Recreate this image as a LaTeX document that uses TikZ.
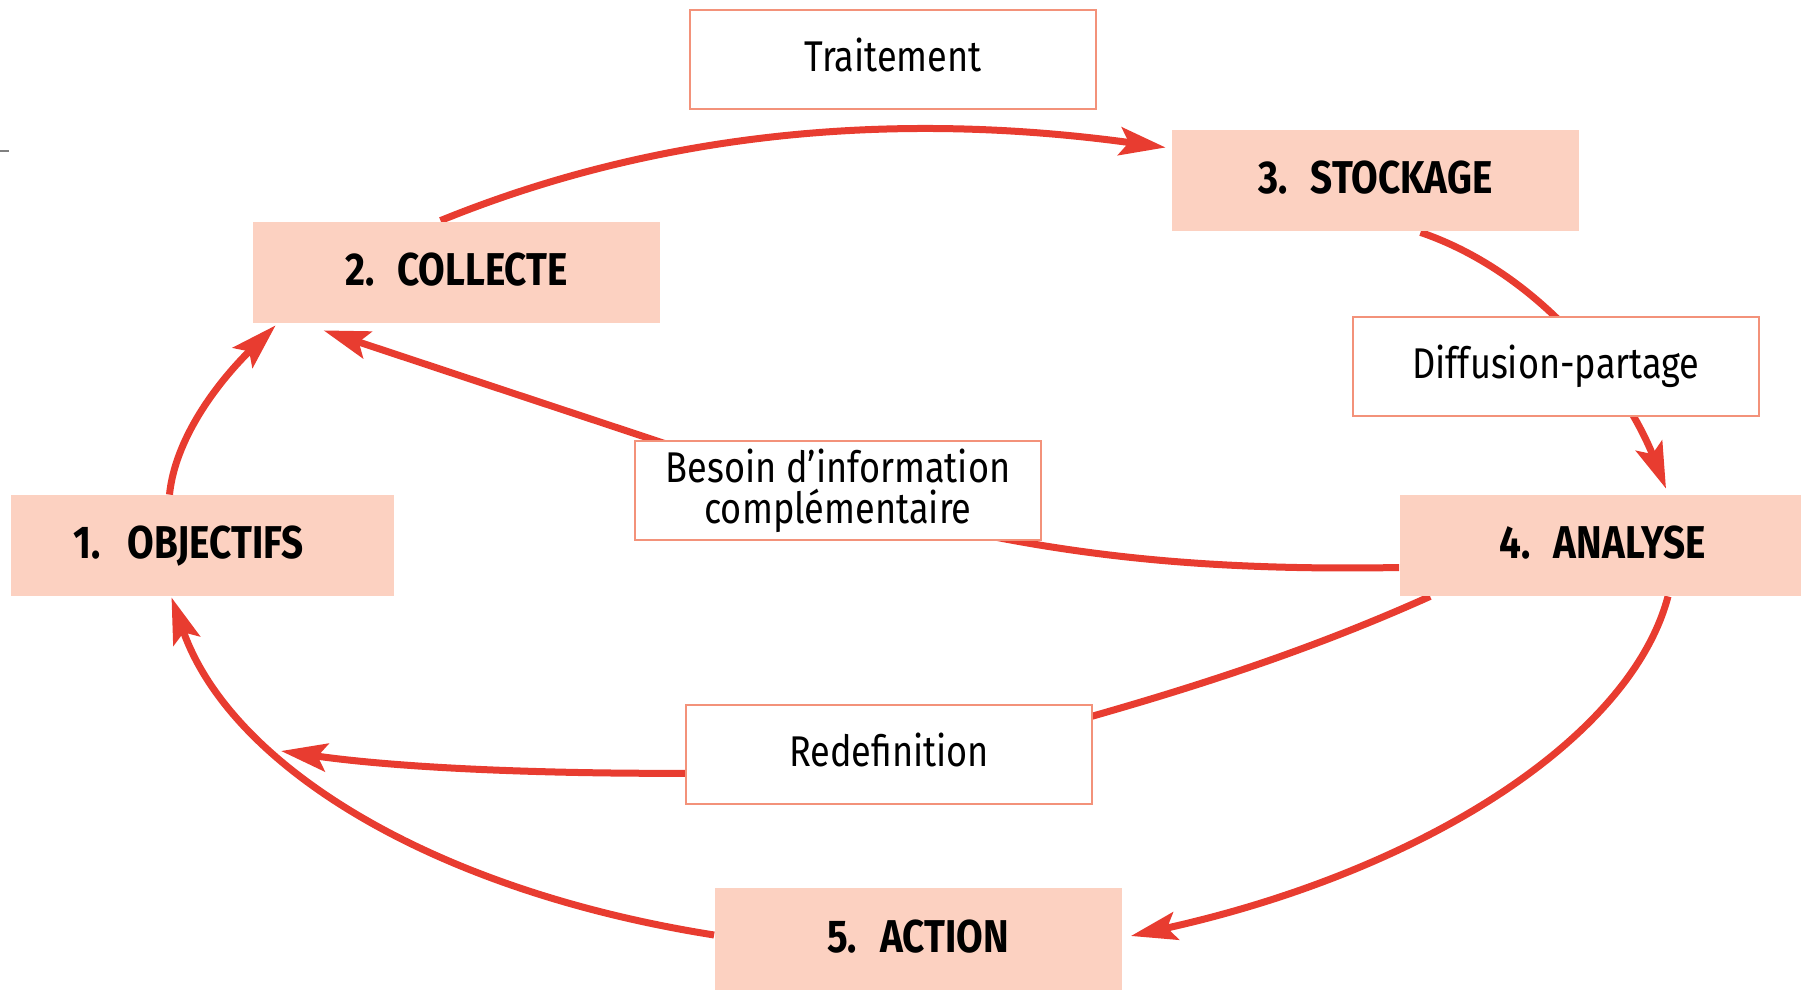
\documentclass[tikz,border=0pt]{standalone}
\usepackage{fontspec}
\setmainfont{Fira Sans}[FakeStretch=0.84]
\usetikzlibrary{arrows.meta,calc,backgrounds}
\definecolor{boxfill}{RGB}{252,209,193}
\definecolor{boxline}{RGB}{243,146,122}
\definecolor{flowred}{RGB}{232,60,48}
\begin{document}
\begin{tikzpicture}[x=0.5pt,y=-0.5pt,
  stage/.style={fill=boxfill, draw=none, inner sep=0pt,
    minimum width=203.5pt, minimum height=50.5pt,
    text height=17pt, text depth=3.6pt,
    font=\fontsize{23}{26}\selectfont\bfseries},
  tag/.style={fill=white, draw=boxline, line width=1pt, inner sep=0pt,
    minimum width=203pt, minimum height=49.5pt, align=center,
    font=\fontsize{21.5}{20.5}\selectfont},
  oneline/.style={text height=16.5pt, text depth=4.5pt},
  flow/.style={draw=flowred, line width=3.5pt,
    -{Stealth[length=23pt,width=14pt,inset=4.5pt]}}]
\useasboundingbox (0,0) rectangle (1801,990);

% small rule at the left margin
\draw[gray, line width=0.6pt] (0,151) -- (9,151);

% stages of the cycle
\node[stage] (collecte) at (456.5,272.5) {2.\hspace{0.5em}COLLECTE};
\node[stage] (stockage) at (1375.5,180.5) {3.\hspace{0.5em}STOCKAGE};
\node[stage, minimum width=191.5pt] (objectifs) at (202.5,545.5) {1.\hspace{0.6em}OBJECTIFS\kern14pt};
\node[stage] (analyse) at (1603,545.5) {4.\hspace{0.5em}ANALYSE};
\node[stage, minimum height=51pt] (action) at (918,939) {5.\hspace{0.5em}ACTION};

% labels on the links
\node[tag, oneline] (traitement) at (893,59.5) {Traitement};
\node[tag, oneline] (diffusion) at (1556,366.5) {Diffusion-partage};
\node[tag] (besoin) at (838,490.5) {Besoin d’information\\complémentaire};
\node[tag, oneline] (redef) at (889,754) {Redefinition};

\coordinate (join) at (281,751);

\begin{scope}[on background layer]
  % 2 -> 3
  \draw[flow] ($(collecte.north)+(-16,-1)$) .. controls (700,115) and (950,118) .. ($(stockage.west)+(-6,-33)$);
  % 3 -> 4, behind the diffusion label
  \draw[flow] ($(stockage.south)+(45,1)$) .. controls (1545,275) and (1627,390) .. ($(analyse.north)+(63,-6)$);
  % 4 -> 2, behind the complementary information label
  \draw[flow] ($(analyse.west)+(0,22)$) .. controls (1150,572) and (1000,545) .. (820,495) -- ($(collecte.south west)+(71,7)$);
  % 1 -> 2
  \draw[flow] ($(objectifs.north)+(-33,0)$) .. controls (175,440) and (215,385) .. ($(collecte.south west)+(23,2)$);
  % 4 -> 5
  \draw[flow] ($(analyse.south)+(65,0)$) .. controls (1630,740) and (1420,872) .. ($(action.east)+(9,-3)$);
  % 5 -> 1
  \draw[flow] ($(action.west)+(0,-4)$) .. controls (430,890) and (230,765) .. ($(objectifs.south)+(-31,1)$);
  % 4 -> redefinition, joining the 5 -> 1 arc
  \draw[flow] ($(analyse.south west)+(31,0)$) .. controls (1300,655) and (1170,695) .. (1050,728) -- (730,773) .. controls (550,775) and (400,768) .. (join);
\end{scope}
\end{tikzpicture}
\end{document}
